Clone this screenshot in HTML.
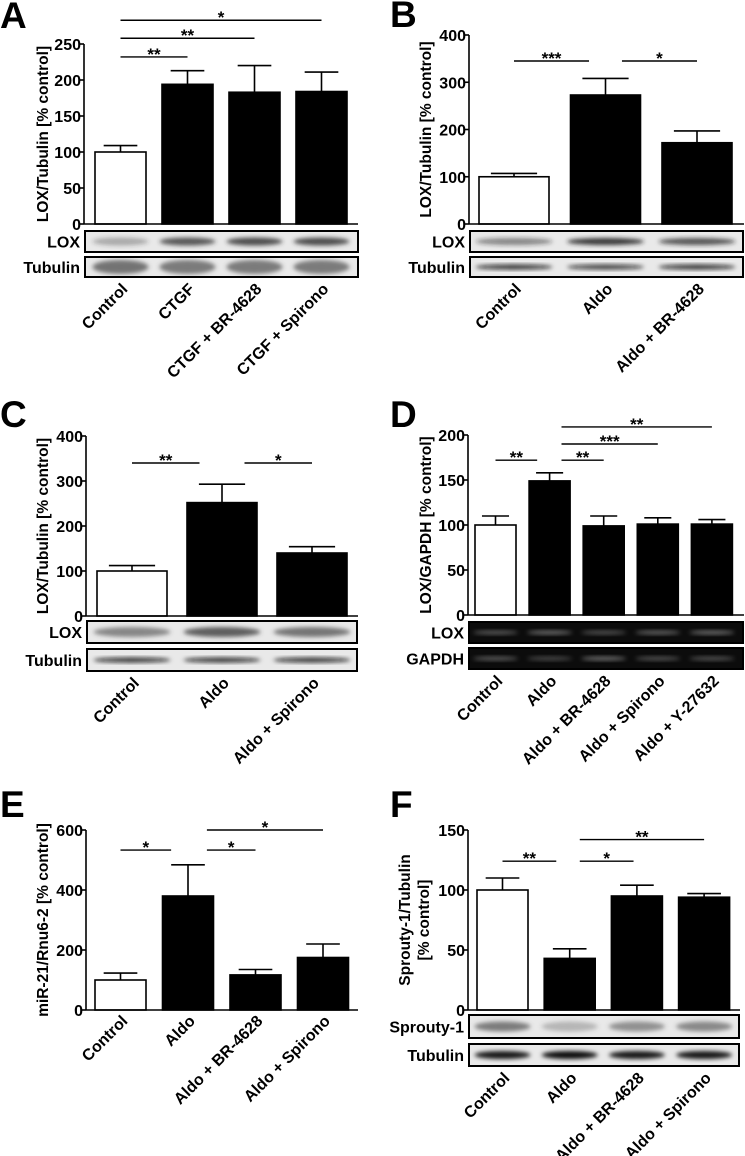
<!DOCTYPE html>
<html><head><meta charset="utf-8"><style>
html,body{margin:0;padding:0;background:#fff;}
svg{display:block;font-family:"Liberation Sans",Arial,sans-serif;font-weight:bold;}
</style></head><body>
<svg id="fig" width="745" height="1156" viewBox="0 0 745 1156" xmlns="http://www.w3.org/2000/svg">
<defs>
<filter id="blur" x="-20%" y="-50%" width="140%" height="200%"><feGaussianBlur stdDeviation="2.2"/></filter>
</defs>
</svg>
<script>
// ---- Data ----
const aCategories = ["Control","CTGF","CTGF + BR-4628","CTGF + Spirono"];
const aValues = [100,194,183,184];
const aErrors = [9,19,37,27];
const aTicks = [0,50,100,150,200,250];
const aSig = [[0,1,232,"**"],[0,2,258,"**"],[0,3,283,"*"]];

const bCategories = ["Control","Aldo","Aldo + BR-4628"];
const bValues = [100,273,172];
const bErrors = [7,35,25];
const bTicks = [0,100,200,300,400];
const bSig = [[0,0.82,345,"***"],[1.18,2,345,"*"]];

const cCategories = ["Control","Aldo","Aldo + Spirono"];
const cValues = [100,252,140];
const cErrors = [12,41,14];
const cTicks = [0,100,200,300,400];
const cSig = [[0,0.75,340,"**"],[1.25,2,340,"*"]];

const dCategories = ["Control","Aldo","Aldo + BR-4628","Aldo + Spirono","Aldo + Y-27632"];
const dValues = [100,149,99,101,101];
const dErrors = [10,9,11,7,5];
const dTicks = [0,50,100,150,200];
const dSig = [[0,0.77,172,"**"],[1.22,2,172,"**"],[1.22,3,190,"***"],[1.22,4,209,"**"]];

const eCategories = ["Control","Aldo","Aldo + BR-4628","Aldo + Spirono"];
const eValues = [100,380,117,175];
const eErrors = [23,104,18,45];
const eTicks = [0,200,400,600];
const eSig = [[0,0.75,533,"*"],[1.28,2,533,"*"],[1.28,3,600,"*"]];

const fCategories = ["Control","Aldo","Aldo + BR-4628","Aldo + Spirono"];
const fValues = [100,43,95,94];
const fErrors = [10,8,9,3];
const fTicks = [0,50,100,150];
const fSig = [[0,0.8,124,"**"],[1.15,1.95,124,"*"],[1.15,3,142,"**"]];

const svg = document.getElementById('fig');
const NS = 'http://www.w3.org/2000/svg';
function mk(tag, attrs, parent){
  const e = document.createElementNS(NS, tag);
  for (const k in attrs) e.setAttribute(k, attrs[k]);
  (parent||svg).appendChild(e);
  return e;
}

function panel(p){
  const g = mk('g', {});
  
  
  const y = v => p.yZero - (v / p.yMax) * (p.yZero - p.yTop);
  const cx = i => p.firstBar + i * p.step + p.barW / 2;

  const L = mk('text', {x:p.lx, y:p.ly, 'font-size':37, fill:'#000'}, g);
  L.textContent = p.letter;
  
  

  p.values.forEach((v, i) => {
    const top = y(v), etop = y(v + p.errors[i]);
    const el = mk('line', {x1:cx(i), x2:cx(i), y1:top, y2:etop, stroke:'#000', 'stroke-width':1.6}, g);
    
    
    const cap = mk('line', {x1:cx(i)-p.barW*0.33, x2:cx(i)+p.barW*0.33, y1:etop, y2:etop, stroke:'#000', 'stroke-width':1.6}, g);
    
    
    const r = mk('rect', {x:p.firstBar + i*p.step, y:top, width:p.barW, height:p.yZero-top,
      fill: i===0 ? '#fff' : '#000', stroke:'#000', 'stroke-width':1.6}, g);
    
    
  });

  const ya = mk('line', {x1:p.axisX, x2:p.axisX, y1:p.yTop, y2:p.yZero, stroke:'#000', 'stroke-width':1.6}, g);
  
  
  const xa = mk('line', {x1:p.axisX, x2:p.xEnd, y1:p.yZero, y2:p.yZero, stroke:'#000', 'stroke-width':1.6}, g);
  
  
  p.ticks.forEach(t => {
    const tm = mk('line', {x1:p.axisX-4, x2:p.axisX, y1:y(t), y2:y(t), stroke:'#000', 'stroke-width':1.6}, g);
    
    
    const tl = mk('text', {x:p.axisX-3, y:y(t)+6, 'font-size':16, 'text-anchor':'end'}, g);
    tl.textContent = t;
    
    
  });

  const mid = (p.yTop + p.yZero) / 2;
  p.title.forEach((line, k) => {
    const tx = p.titleX + k * 19;
    const tt = mk('text', {x:tx, y:mid, 'font-size':15.5, 'text-anchor':'middle', transform:`rotate(-90 ${tx} ${mid})`}, g);
    tt.textContent = line;
    
    
  });

  p.sig.forEach(s => {
    const x1 = cx(s[0]), x2 = cx(s[1]), yy = y(s[2]);
    const sl = mk('line', {x1:x1, x2:x2, y1:yy, y2:yy, stroke:'#000', 'stroke-width':1.4}, g);
    
    
    const st = mk('text', {x:(x1+x2)/2, y:yy+3, 'font-size':17, 'text-anchor':'middle'}, g);
    st.textContent = s[3];
    
    
  });

  let labelY = p.yZero + 12;
  (p.blots || []).forEach(b => {
    const bg = mk('g', {}, g);
    
    
    const clipId = 'c' + p.letter + b.name;
    const cp = mk('clipPath', {id:clipId}, bg);
    mk('rect', {x:p.axisX+1, y:b.y0, width:p.blotEnd-p.axisX-2, height:b.y1-b.y0}, cp);
    mk('rect', {x:p.axisX+1, y:b.y0, width:p.blotEnd-p.axisX-2, height:b.y1-b.y0, fill:b.bg}, bg);
    const bands = mk('g', {'clip-path':`url(#${clipId})`, filter:'url(#blur)'}, bg);
    p.values.forEach((v, i) => {
      mk('ellipse', {cx:cx(i), cy:(b.y0+b.y1)/2 + (b.dy||0), rx:p.barW*0.55, ry:b.ry, fill:b.band, opacity:b.op[i]}, bands);
    });
    mk('rect', {x:p.axisX+1, y:b.y0, width:p.blotEnd-p.axisX-2, height:b.y1-b.y0, fill:'none', stroke:'#000', 'stroke-width':2}, bg);
    const bl = mk('text', {x:p.axisX-4, y:(b.y0+b.y1)/2+6, 'font-size':16, 'text-anchor':'end'}, g);
    bl.textContent = b.name;
    
    
    labelY = b.y1 + 13;
  });

  p.categories.forEach((c, i) => {
    const ex = cx(i) + 8, ey = labelY;
    const xl = mk('text', {x:ex, y:ey, 'font-size':16, 'text-anchor':'end', transform:`rotate(-45 ${ex} ${ey})`}, g);
    xl.textContent = c;
    
    
  });
}

const light = '#e9e9e9';
panel({letter:'A', lx:0, ly:28, categories:aCategories, values:aValues, errors:aErrors, ticks:aTicks, sig:aSig,
  axisX:84, yTop:44, yZero:224, yMax:250, firstBar:95, barW:51, step:67, xEnd:358, blotEnd:359,
  title:['LOX/Tubulin [% control]'], titleX:48,
  blots:[{name:'LOX', y0:231, y1:252, bg:light, band:'#333', ry:4, op:[0.35,0.8,0.85,0.85]},
         {name:'Tubulin', y0:257, y1:277, bg:light, band:'#555', ry:7, op:[0.8,0.75,0.75,0.75]}]});

panel({letter:'B', lx:390, ly:27, categories:bCategories, values:bValues, errors:bErrors, ticks:bTicks, sig:bSig,
  axisX:469, yTop:35, yZero:224, yMax:400, firstBar:479, barW:70, step:91.5, xEnd:744, blotEnd:744,
  title:['LOX/Tubulin [% control]'], titleX:431,
  blots:[{name:'LOX', y0:231, y1:252, bg:light, band:'#222', ry:3.5, op:[0.5,0.9,0.75]},
         {name:'Tubulin', y0:257, y1:277, bg:light, band:'#111', ry:2.5, op:[0.85,0.8,0.85]}]});

panel({letter:'C', lx:0, ly:427, categories:cCategories, values:cValues, errors:cErrors, ticks:cTicks, sig:cSig,
  axisX:86, yTop:436, yZero:616, yMax:400, firstBar:97, barW:70, step:90, xEnd:358, blotEnd:358,
  title:['LOX/Tubulin [% control]'], titleX:48,
  blots:[{name:'LOX', y0:621, y1:643, bg:light, band:'#444', ry:5, op:[0.6,0.85,0.7]},
         {name:'Tubulin', y0:649, y1:671, bg:light, band:'#111', ry:2.5, op:[0.85,0.85,0.85]}]});

panel({letter:'D', lx:390, ly:427, categories:dCategories, values:dValues, errors:dErrors, ticks:dTicks, sig:dSig,
  axisX:468, yTop:435, yZero:615, yMax:200, firstBar:475, barW:41, step:54.1, xEnd:744, blotEnd:744,
  title:['LOX/GAPDH [% control]'], titleX:431,
  blots:[{name:'LOX', y0:622, y1:643, bg:'#0c0c0c', band:'#bbb', ry:2, op:[0.45,0.55,0.4,0.5,0.55]},
         {name:'GAPDH', y0:648, y1:669, bg:'#0c0c0c', band:'#bbb', ry:2, op:[0.45,0.35,0.55,0.4,0.4]}]});

panel({letter:'E', lx:0, ly:817, categories:eCategories, values:eValues, errors:eErrors, ticks:eTicks, sig:eSig,
  axisX:86, yTop:830, yZero:1010, yMax:600, firstBar:95, barW:51, step:67.5, xEnd:358,
  title:['miR-21/Rnu6-2 [% control]'], titleX:48});

panel({letter:'F', lx:390, ly:817, categories:fCategories, values:fValues, errors:fErrors, ticks:fTicks, sig:fSig,
  axisX:468, yTop:830, yZero:1010, yMax:150, firstBar:477, barW:51, step:67.2, xEnd:740, blotEnd:740,
  title:['Sprouty-1/Tubulin','[% control]'], titleX:410,
  blots:[{name:'Sprouty-1', y0:1015, y1:1038, bg:light, band:'#555', ry:5, op:[0.75,0.35,0.6,0.65]},
         {name:'Tubulin', y0:1044, y1:1066, bg:light, band:'#000', ry:4, op:[0.9,0.95,0.9,0.9]}]});
</script>
</body></html>
